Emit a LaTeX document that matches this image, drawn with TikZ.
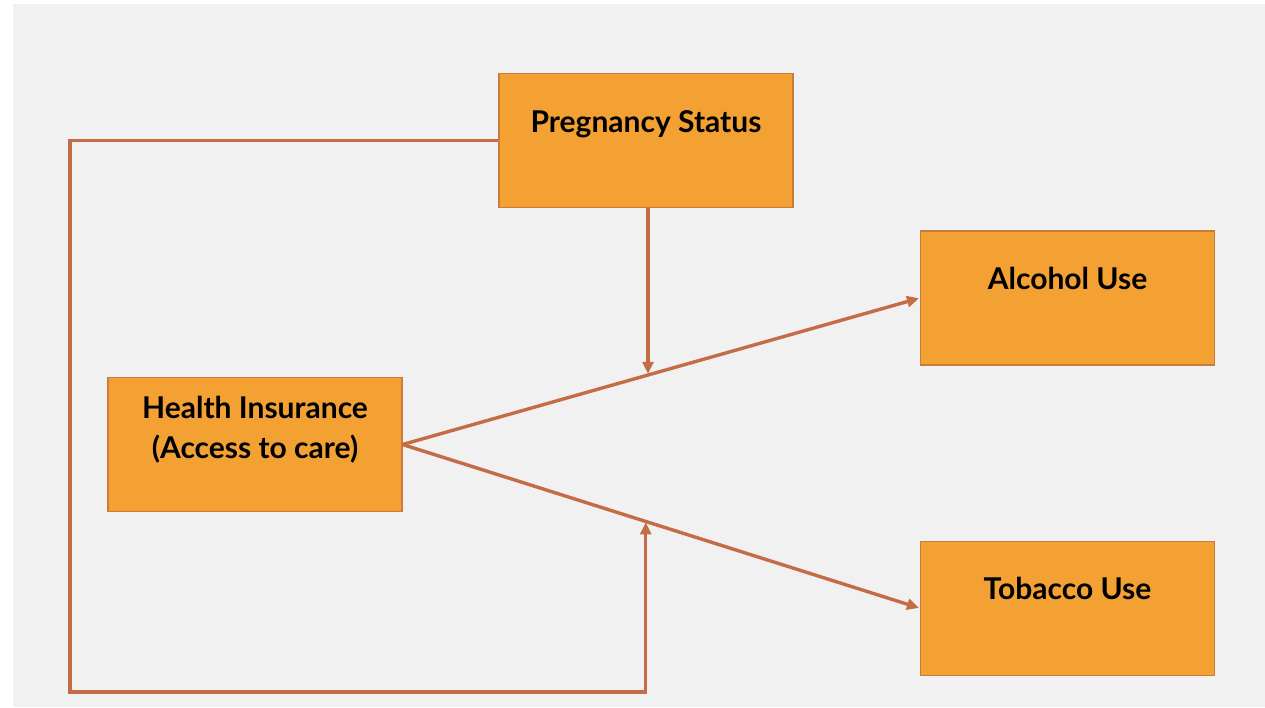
\documentclass[tikz,border=0pt]{standalone}
\usepackage{fontspec}
\setmainfont{Lato}
\usetikzlibrary{arrows.meta,positioning,calc}
\definecolor{boxfill}{RGB}{243,161,50}
\definecolor{boxedge}{RGB}{204,123,62}
\definecolor{linkc}{RGB}{196,108,70}
\definecolor{slide}{RGB}{241,241,241}

\begin{document}
\begin{tikzpicture}[
  x=1pt, y=-1pt,
  box/.style={draw=boxedge, fill=boxfill, line width=1.2pt,
              minimum width=294pt, minimum height=134pt, inner sep=0pt,
              font=\fontsize{30}{40}\selectfont\bfseries, align=center,
              text height=20pt, text depth=37pt},
  arr/.style={-{Triangle[length=12pt,width=11pt]}, line width=3.4pt, linkc,
              shorten >=1pt}
]
\useasboundingbox (0,0) rectangle (1265,707);
\fill[white] (0,0) rectangle (1265,707);
\fill[slide] (13,4) rectangle (1265,707);

\node[box] (preg) at (646,140.5) {Pregnancy Status};
\node[box, text height=60pt, text depth=33pt] (health) at (255,444.5)
  {Health Insurance\\(Access to care)};
\node[box] (alcohol) at (1067.5,298) {Alcohol Use};
\node[box, below=175pt of alcohol] (tobacco) {Tobacco Use};

\coordinate (corner) at (70,692);

\draw[arr] (health.east) -- coordinate[pos=0.476] (ma) (alcohol.west);
\draw[arr] (health.east) -- coordinate[pos=0.47] (mt) (tobacco.west);

% moderation by pregnancy
\draw[arr] ([xshift=2pt]preg.south) -- ([xshift=2pt]preg.south |- ma);
\draw[arr] (preg.west) -| (corner) -| (mt);
\end{tikzpicture}
\end{document}
